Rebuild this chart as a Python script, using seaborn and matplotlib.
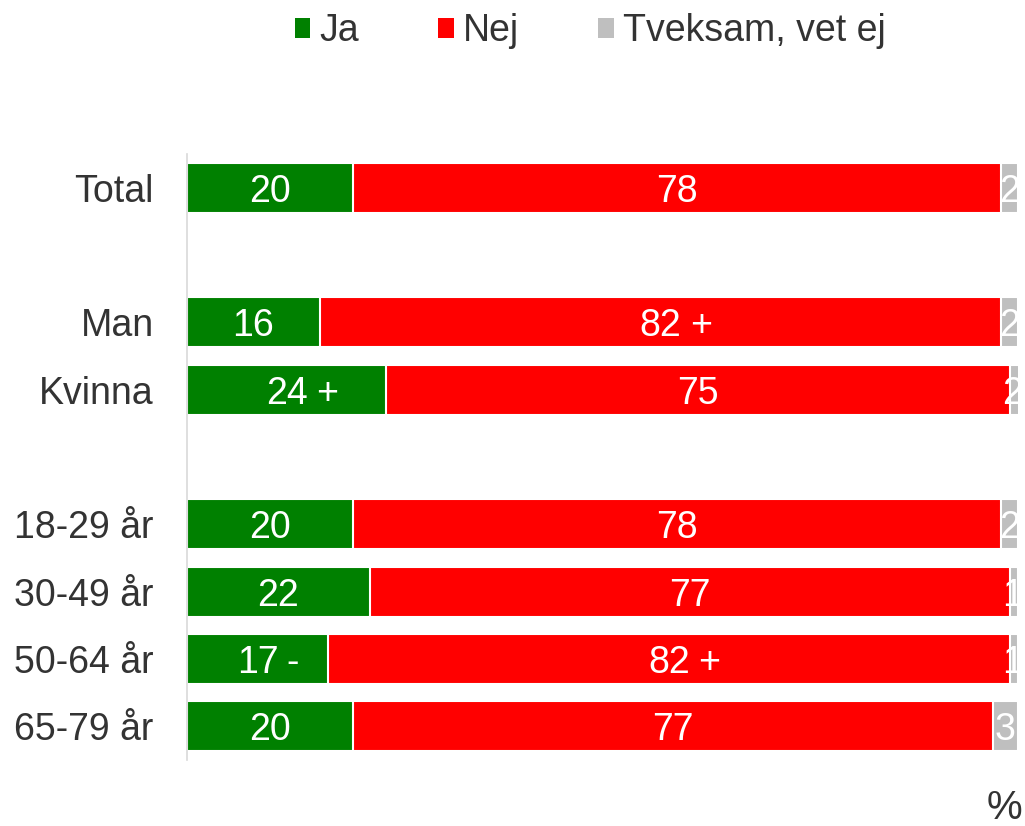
import pandas as pd
import seaborn as sns
import matplotlib.pyplot as plt

# Svar per grupp (procent); tomma strängar = mellanrum mellan grupperna
groups = ["Total", "", "Man", "Kvinna", " ", "18-29 år", "30-49 år", "50-64 år", "65-79 år"]
ja = [20, None, 16, 24, None, 20, 22, 17, 20]
nej = [78, None, 82, 75, None, 78, 77, 82, 77]
tveksam = [2, None, 2, 2, None, 2, 1, 1, 3]
ja_sign = ["", "", "", "+", "", "", "", "-", ""]
nej_sign = ["", "", "+", "", "", "", "", "+", ""]

col_ja = "#008000"
col_nej = "#FF0000"
col_tv = "#BFBFBF"
txt_col = "#333333"

df = pd.DataFrame({"grupp": groups, "ja": ja, "nej": nej, "tveksam": tveksam})
df = df[df["ja"].notna()].copy()
df["cum_nej"] = df["ja"] + df["nej"]
df["cum_tv"] = df["cum_nej"] + df["tveksam"]

sns.set_style("white")
plt.rcParams["font.family"] = ["Liberation Sans", "DejaVu Sans"]

fig = plt.figure(figsize=(10.25, 8.26), dpi=100)
ax = fig.add_axes([0.1824, 0.0799, 0.8107, 0.7337])

# stacked bars: draw cumulative sums from the back to the front
for col, c, lab in [("cum_tv", col_tv, "Tveksam, vet ej"),
                    ("cum_nej", col_nej, "Nej"),
                    ("ja", col_ja, "Ja")]:
    sns.barplot(data=df, x=col, y="grupp", order=groups, orient="h",
                color=c, saturation=1, width=0.74, edgecolor="white",
                linewidth=1.5, label=lab, ax=ax)

fs = 27
pos = {g: i for i, g in enumerate(groups)}
for i, g in enumerate(groups):
    if ja[i] is None:
        continue
    y = pos[g]
    segs = [(0, ja[i], ja_sign[i]),
            (ja[i], ja[i] + nej[i], nej_sign[i]),
            (ja[i] + nej[i], ja[i] + nej[i] + tveksam[i], "")]
    vals = [ja[i], nej[i], tveksam[i]]
    for k, ((a, b, s), v) in enumerate(zip(segs, vals)):
        cx = (a + b) / 2
        if k == 2:
            cx = min(cx, 99.3)  # keep the small grey label inside the figure
        ax.text(cx, y, str(v), ha="center", va="center_baseline", color="white",
                fontsize=fs, clip_on=False)
        if s:
            ax.annotate(s, (cx, y), xytext=(21, 0), textcoords="offset points",
                        ha="left", va="center_baseline", color="white", fontsize=fs)

ax.set_xlim(0, 100)
ax.set_ylim(8.5, -0.5)
ax.set_xlabel("")
ax.set_ylabel("")
ax.set_xticks([])
ax.tick_params(axis="y", length=0, pad=24, labelsize=fs, labelcolor=txt_col)
for s in ["top", "right", "bottom"]:
    ax.spines[s].set_visible(False)
ax.spines["left"].set_color("#D9D9D9")
ax.spines["left"].set_linewidth(1.2)

handles, labels = ax.get_legend_handles_labels()
if ax.get_legend() is not None:
    ax.get_legend().remove()
order = [labels.index(n) for n in ["Ja", "Nej", "Tveksam, vet ej"]]
leg = fig.legend([handles[k] for k in order], [labels[k] for k in order],
                 loc="center", bbox_to_anchor=(0.576, 0.962), ncol=3,
                 frameon=False, fontsize=fs, handlelength=0.42, handleheight=0.42,
                 handletextpad=0.25, columnspacing=2.1, labelcolor=txt_col)
for h in leg.legend_handles:
    h.set_edgecolor("none")

fig.text(0.997, 0.022, "%", ha="right", va="center", fontsize=fs + 2, color=txt_col)

fig.savefig("out.png", dpi=100)
